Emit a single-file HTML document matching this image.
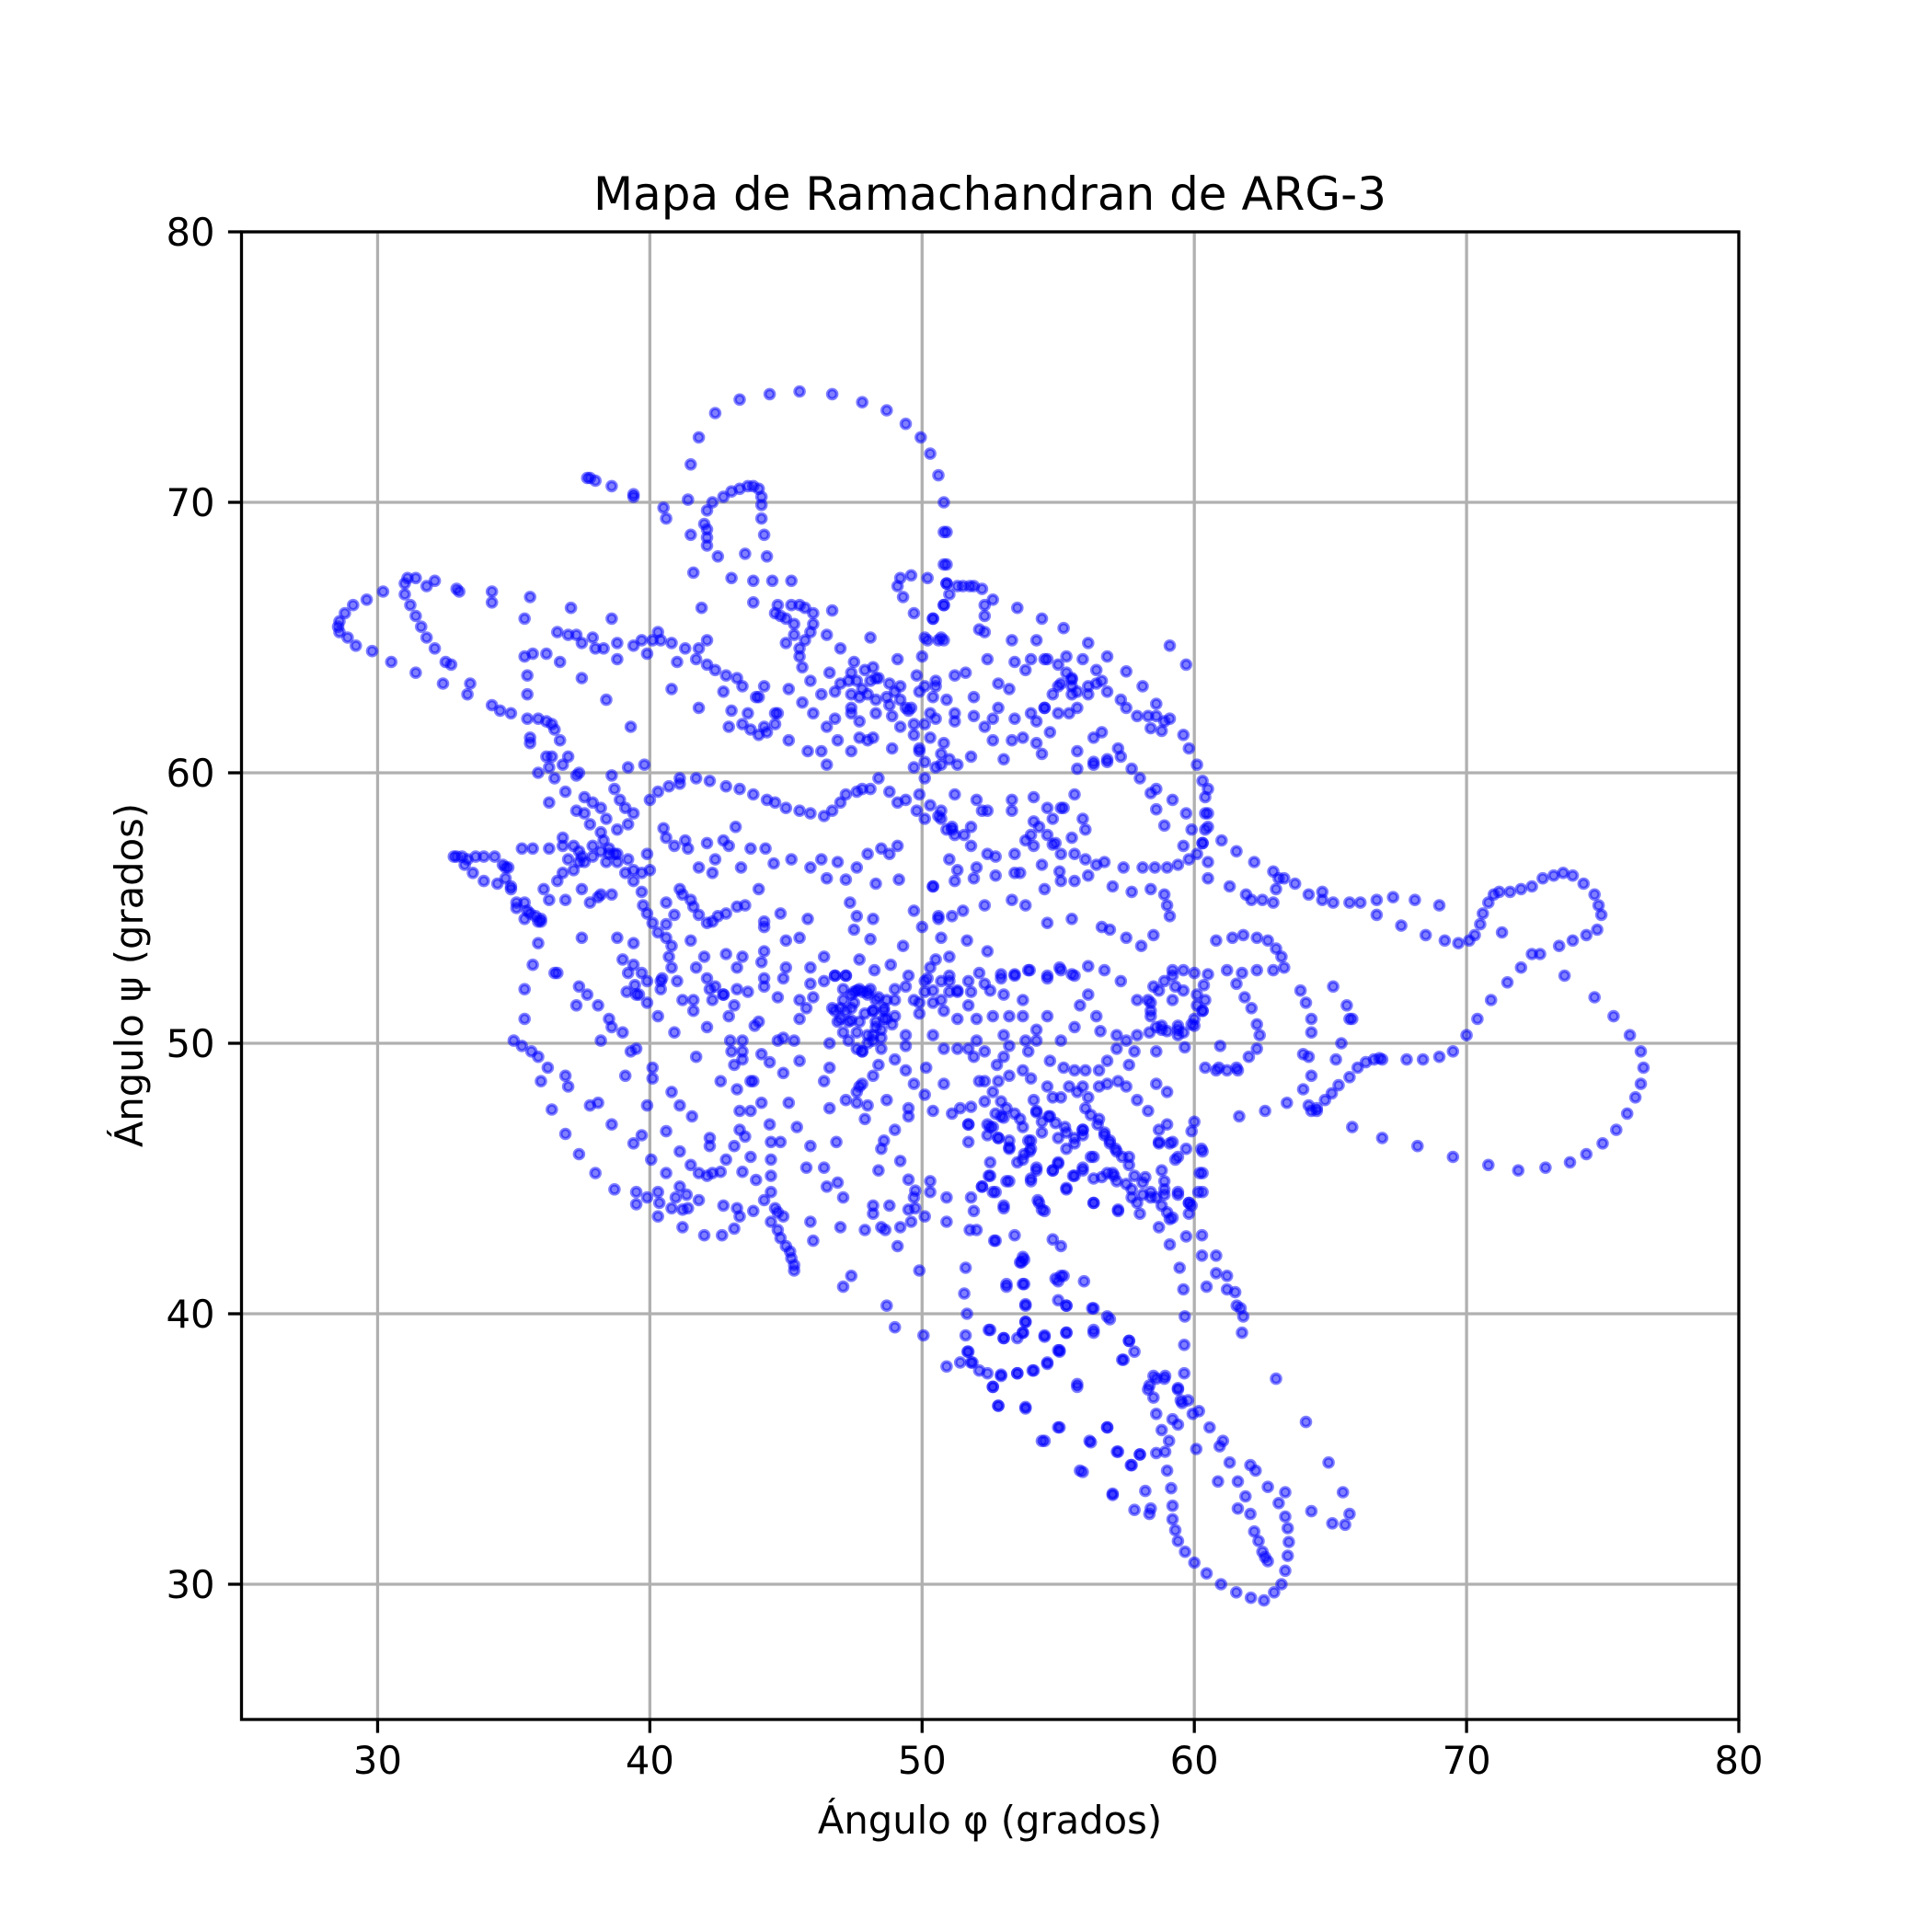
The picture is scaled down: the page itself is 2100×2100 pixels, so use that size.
<!DOCTYPE html>
<html>
<head>
<meta charset="utf-8">
<style>
  html, body { margin: 0; padding: 0; background: #ffffff; }
  svg { display: block; }
  text { font-family: "DejaVu Sans", "Liberation Sans", sans-serif; fill: #000; }
</style>
</head>
<body>
<svg id="chart" width="2100" height="2100" viewBox="0 0 2100 2100" xmlns="http://www.w3.org/2000/svg">
  <rect x="0" y="0" width="2100" height="2100" fill="#ffffff"/>
  <text x="1076" y="228" font-size="50" text-anchor="middle">Mapa de Ramachandran de ARG-3</text>
  <g id="grid"></g>
  <g id="points"></g>
  <rect x="262.5" y="252" width="1627.5" height="1617" fill="none" stroke="#000" stroke-width="3.3"/>
  <g id="xticks"></g>
  <g id="yticks"></g>
  <text x="1076" y="1993" font-size="41.7" text-anchor="middle">Ángulo φ (grados)</text>
  <text x="155" y="1060" font-size="41.7" text-anchor="middle" transform="rotate(-90 155 1060)">Ángulo ψ (grados)</text>
</svg>
<script>
const xTickValues = [30, 40, 50, 60, 70, 80];
const yTickValues = [30, 40, 50, 60, 70, 80];
const xDomain = [25, 80];
const yDomain = [25, 80];

const topLoop = [[43.3,73.8],[44.4,74.0],[45.5,74.1],[46.7,74.0],[47.8,73.7],[48.7,73.4],[49.4,72.9],[49.95,72.4],[50.3,71.8],[50.6,71.0],[50.8,70.0],[50.9,68.9],[50.9,67.7],[42.4,73.3],[41.8,72.4],[41.5,71.4],[41.4,70.1],[41.5,68.8],[41.6,67.4],[41.9,66.1],
[37.7,70.9],[37.8,70.9],[38.0,70.8],[38.6,70.6],[39.4,70.3],[39.4,70.2],[40.5,69.8],[40.6,69.4],
[42.1,69.7],[42.0,69.2],[42.1,69.0],[42.1,68.7],[42.1,68.4],[42.5,68.0],[42.3,70.0],[42.7,70.2],[43.0,70.4],[43.3,70.5],[43.6,70.6],[43.8,70.6],[44.0,70.5],[44.1,70.2],[44.1,69.9],[44.1,69.4],[44.2,68.8],[44.3,68.0],[43.5,68.1],
[43.0,67.2],[43.8,67.1],[44.5,67.1],[45.2,67.1],[43.8,66.3],[44.7,66.2],[46.7,66.0]];

const farLeftLoop = [[30.2,66.7],[29.6,66.4],[29.1,66.2],[28.8,65.9],[28.6,65.6],[28.55,65.4],[28.6,65.2],[28.9,65.0],[29.2,64.7],[29.8,64.5],[30.5,64.1],[31.4,63.7],[32.4,63.3],[33.3,62.9],[33.4,63.3],[34.2,62.5],[34.5,62.3],[34.9,62.2],[35.5,62.0],[35.9,62.0],[36.2,61.9],[36.4,61.8],[36.5,61.6],[36.7,61.2],
[31.0,67.0],[31.1,67.2],[31.4,67.2],[31.8,66.9],[32.1,67.1],[32.9,66.8],[33.0,66.7],[34.2,66.7],[34.2,66.3],[35.6,66.5],[35.4,65.7],[37.1,66.1],[38.6,65.7],
[31.0,66.6],[31.2,66.2],[31.4,65.8],[31.6,65.4],[31.8,65.0],[32.1,64.6],[32.5,64.1],[32.7,64.0]];

const upperLeftBand = [[36.6,65.2],[37.0,65.1],[37.3,65.1],[37.5,64.8],[37.9,65.0],[38.0,64.6],[38.3,64.6],[38.8,64.8],[38.8,64.2],[39.4,64.7],[39.7,64.9],[39.9,64.4],[40.1,64.9],[40.3,65.2],[40.4,64.9],[40.8,64.8],[41.3,64.6],[41.8,64.6],[42.1,64.9],[41.7,64.2],
[42.1,64.0],[42.4,63.8],[42.8,63.6],[43.2,63.5],[43.4,63.2],[43.9,62.8],[44.2,63.2],[44.0,62.8],[44.6,62.2],[44.7,62.2],[44.6,61.8],[44.3,61.5],[44.0,61.4],[43.7,61.6],[43.4,61.8],[42.9,61.7],[42.7,63.0],[43.0,62.3],[41.8,62.4],[40.8,63.1],[41.0,64.1],
[35.4,64.3],[35.7,64.4],[36.2,64.4],[36.7,64.1],[35.5,63.6],[35.5,62.9],[37.5,63.5],[38.4,62.7],[39.3,61.7],
[35.6,61.3],[35.6,61.1],[36.2,60.6],[36.4,60.6],[37.0,60.6],[36.8,60.3],[36.3,60.2],[35.9,60.0],[36.5,59.8],[37.3,59.9],[37.4,60.0],[36.3,58.9],[36.9,59.3]];

const upperMidKnot = [[44.8,65.8],[45.2,66.2],[45.5,66.2],[45.7,66.1],[46.0,65.9],[46.0,65.5],[45.9,65.2],[45.7,64.9],[45.5,64.6],[45.5,64.3],[45.3,65.1],[45.3,65.5],[45.0,65.7],[44.6,65.9],[45.0,64.8],[45.6,63.9],[45.9,63.4],[46.3,62.9],[46.8,63.0],
[46.5,65.1],[47.0,64.6],[47.5,64.1],[46.6,63.7],[47.0,63.3],[46.8,62.0],[46.3,60.8],[48.1,65.0],[48.1,63.4],
[49.2,67.2],[49.1,66.9],[49.3,66.5],[49.6,67.3],[50.2,67.2],[49.7,65.9],[50.4,65.7],[51.0,66.6],[50.9,67.0],[51.3,66.9],[50.8,66.2],[50.2,64.9],[50.6,64.9],[50.8,64.9],[50.0,64.3],[49.1,64.2],[49.8,63.6],[50.1,63.2],[50.5,63.2],[50.4,62.8],[50.9,62.7],[51.2,63.6],[50.5,62.0],[51.2,61.9],[50.8,61.1],[50.7,60.7],[51.0,60.5],[50.1,61.8],[50.3,61.3],[49.9,60.9],[49.7,61.4],[49.9,60.8],[50.1,60.4],[49.7,60.2],[50.5,60.2],
[47.4,63.7],[47.6,63.4],[47.9,63.8],[48.2,63.9],[48.4,63.5],[48.8,63.3],[49.0,63.0],[49.2,62.7],[49.4,62.4],[48.8,62.5],[48.3,62.7],[48.0,62.9],[47.7,62.8],[47.4,62.9],[47.3,63.4],[47.4,62.4],[47.7,61.9],[48.3,62.2],[48.9,62.1],[49.2,63.2],[49.5,62.3],[49.7,61.8],[48.2,61.3],[47.7,61.3],
[45.1,63.1],[45.6,62.6],[46.0,62.2],[46.5,61.7],[46.9,61.2],[47.4,62.2],[47.8,63.1],[48.3,63.5],[48.7,62.8],[49.2,61.7],[49.6,62.4],[48.9,60.9],[48.0,61.2],[47.4,60.8],[46.5,60.3],[45.8,60.8],[45.1,61.2],[44.2,61.7],[43.6,62.2]];

const upperRightArea = [[50.8,68.9],[50.8,67.7],[50.9,67.0],[51.5,66.9],[51.75,66.9],[51.9,66.9],[52.2,66.8],[52.6,66.4],[52.3,66.2],[52.3,65.8],[52.3,65.2],[50.8,66.2],[50.4,65.7],[50.1,65.0],[50.7,65.0],
[53.5,66.1],[54.4,65.7],[55.2,65.35],[56.1,64.8],[56.8,64.3],[57.5,63.75],[58.1,63.2],[58.6,62.55],[59.1,62.0],[59.6,61.4],[59.8,60.9],[60.1,60.3],[60.3,59.7],[60.4,59.1],[60.5,58.5],[60.4,57.9],[60.3,57.4],[60.1,57.0],
[53.4,64.1],[54.0,64.2],[54.5,64.2],[55.0,64.0],[55.3,63.7],[55.5,63.45],[55.7,63.0],[56.1,62.9],[56.4,63.3],[56.8,63.0],[57.3,62.7],[57.5,62.4],[57.9,62.1],[58.3,62.1],[58.6,62.1],[58.9,61.9],[58.8,61.55],[58.4,61.65],
[56.7,56.7],[57.4,56.5],[58.1,56.5],[58.55,56.5],[59.0,56.5],[59.4,56.6],[59.8,56.8],
[55.7,60.15],[56.3,60.4],[56.8,60.4],[57.3,60.6],[57.7,60.15],[58.0,59.8],[58.6,59.4],[59.2,59.0],[59.7,58.5],[59.9,57.9],[59.6,57.3],[58.9,58.05],[58.6,58.65],[58.4,59.25],
[55.6,59.2],[55.2,58.7],[54.8,58.3],[54.3,58.0],[54.0,57.7],[53.8,57.5],
[50.7,58.3],[51.1,57.9],[51.8,58.0],[52.4,58.6],[53.3,58.6],[54.1,58.2],[54.6,57.7],[54.9,57.4],[55.1,57.0],[55.6,57.0],[56.0,56.8],[56.4,56.6],
[50.5,63.4],[49.9,63.0],[50.3,62.2],[51.2,62.2],[51.9,62.1],[52.6,62.0],[53.4,62.0],[54.0,62.2],[54.5,62.4],[55.0,63.2],[55.5,63.2],[56.1,63.2],[55.7,62.4],[55.4,62.2],[56.3,61.3],[56.6,61.5],[57.2,60.9],[56.8,60.5],[56.3,60.3],[55.7,60.8],[54.4,60.7],[53.0,60.5],[51.8,60.6],[51.3,60.3],[50.7,60.3],
[51.2,59.2],[52.0,59.0],[53.3,59.0],[54.1,59.1],[54.6,58.7],[55.1,58.7],[55.9,58.3],[56.0,57.9],[55.5,57.6],[54.8,57.35],[54.1,57.3],[53.4,57.0],[52.4,57.0],[51.8,57.3],[51.55,57.7],[51.1,58.0],[52.0,56.5],[52.7,56.9],[53.4,56.3],[54.4,56.6],[55.1,56.0],[52.2,58.6],[50.7,58.6],[50.3,58.8],[49.9,59.2],[50.1,59.8],
[52.3,61.7],[52.8,62.4],[53.2,63.1],[53.8,63.8],[54.6,64.2],[55.3,64.3],[55.9,64.2],[56.4,63.8],[56.6,63.4],[55.5,62.9],[55.0,62.2],[54.7,61.5],[54.2,61.1],[53.7,61.3],[54.2,61.9],[54.5,62.4],[54.8,62.9],[55.1,63.3],[55.5,63.5],
[52.1,65.3],[52.4,64.2],[51.6,63.7],[51.9,62.8],[52.8,63.3],[53.3,64.9],[54.2,64.9],[53.3,61.2],[52.6,61.2],[59.1,64.7],[59.7,64.0]];

const rightLobe = [[60.8,53.8],[61.4,53.9],[61.8,54.0],[62.3,53.9],[62.7,53.8],[63.0,53.5],[63.2,53.2],[63.3,52.8],[62.9,52.7],[62.3,52.7],[61.75,52.6],[61.2,52.7],[60.5,52.55],[61.55,52.2],[61.85,51.7],[62.1,51.3],[62.3,50.7],[62.4,50.3],[62.3,49.8],[62.0,49.5],[61.55,49.1],[61.2,49.0],[60.8,49.0],[60.4,49.1],
[63.9,51.95],[64.1,51.5],[64.3,50.9],[64.3,50.4],[64.0,49.6],[64.3,48.8],[64.0,48.3],[64.2,47.7],[64.5,47.5],[64.8,47.9],[65.05,48.15],[65.3,48.45],[65.7,48.75],[66.0,49.1],[66.3,49.3],[66.6,49.4],[66.8,49.45],[66.9,49.4],[67.8,49.4],[68.4,49.4],[69.0,49.5],[69.5,49.7],[70.0,50.3],[70.4,50.9],[70.9,51.6],[71.5,52.25],[72.0,52.8],[72.4,53.3],[72.7,53.3],[73.4,53.6],[73.9,53.8],[74.4,54.0],[74.8,54.2],[74.95,54.75],[74.85,55.1],[74.7,55.5],[74.3,55.9],[73.9,56.2],[73.55,56.3],[73.2,56.2],[72.8,56.1],[72.4,55.8],[72.0,55.7],[71.6,55.6],[71.2,55.6],[71.0,55.5],[70.8,55.2],[70.6,54.8],[70.5,54.4],[70.3,54.0],[70.1,53.8],[69.7,53.7],[69.2,53.8],[69.0,55.1],[68.5,54.0],[68.1,55.3],[67.6,54.35],[67.3,55.4],[66.7,54.75],[66.7,55.3],[66.1,55.2],[65.7,55.2],[65.1,55.2],[64.7,55.3],[64.7,55.6],[64.2,55.5],[63.7,55.9],[63.3,56.1],[63.1,56.1],[63.0,55.7],[62.9,55.2],[62.5,55.3],[62.1,55.3],[61.9,55.5],[61.3,55.8],[60.5,56.1],[60.5,56.7],[60.3,57.4],[61.0,57.5],[61.55,57.1],[62.2,56.7],[62.9,56.35],
[73.6,52.5],[74.7,51.7],[75.4,51.0],[76.0,50.3],[76.4,49.7],[76.5,49.1],[76.4,48.5],[76.2,48.0],[75.9,47.4],[75.5,46.8],[75.0,46.3],[74.4,45.9],[73.8,45.6],[72.9,45.4],[71.9,45.3],[70.8,45.5],[69.5,45.8],[68.2,46.2],[66.9,46.5],[65.8,46.9],[64.5,47.6],[64.3,47.5],
[61.65,47.3],[62.6,47.5],[63.4,47.8],[65.1,52.1],[65.6,51.4],[65.7,50.9],[65.8,50.9],[65.4,50.0],[65.2,49.4],[64.2,49.5],[71.3,54.1],[60.5,59.4],[60.4,58.5],[60.5,58.0]];

const tail = [[59.66,31.2],[60.0,30.8],[60.45,30.4],[60.98,30.0],[61.54,29.7],[62.08,29.5],[62.56,29.4],[62.93,29.7],[63.2,30.0],[63.34,30.5],[63.43,31.05],[63.47,31.56],[63.43,32.07],[63.34,32.5],[63.1,33.0],[63.34,33.4],[62.7,33.6],[62.25,34.2],[62.06,34.4],[61.88,33.25],[62.06,32.6],[62.2,31.95],[62.36,31.6],[62.5,31.2],[62.7,30.85],[62.6,31.0],[61.6,32.8],[61.6,33.8],[61.3,34.5],[60.87,33.8],[61.05,35.3],[60.93,35.1],[60.56,35.8],[60.17,36.4],[59.94,36.3],[59.77,36.8],[59.5,36.8],[59.4,37.25],[58.93,37.7],[58.5,37.7],[58.35,37.35],[58.5,36.9],[58.6,36.3],[58.8,35.7],[59.07,35.3],[58.93,34.9],[58.6,34.85],[59.0,34.2],[59.15,33.55],[59.2,32.9],[59.2,32.4],[59.3,32.0],[59.4,31.6],[60.07,35.0],[59.63,37.8],[59.63,38.85],[59.65,39.9],[59.6,40.9],[59.46,41.7],[59.7,42.86],[59.1,42.56],[60.28,42.9],[60.28,42.15],[60.8,42.15],[60.8,41.5],[61.2,41.4],[61.2,40.9],[61.5,40.8],[61.56,40.3],[61.7,40.2],[61.8,39.9],[61.75,39.3],[60.45,41.0],[60.2,45.2],[60.26,46.1],[60.15,44.5],[59.8,44.1],[59.8,43.7],[63.0,37.6],[64.1,36.0],[64.93,34.5],[65.46,33.4],[65.7,32.6],[65.54,32.2],[65.07,32.25],[64.3,32.7],
[57.35,38.3],[57.6,39.0],[57.8,38.6],[56.8,35.8],[57.16,34.9],[57.67,34.4],[58.0,34.8],[58.2,33.45],[58.4,32.8],[58.35,32.6],[57.8,32.75],[57.0,33.35],[55.8,34.2],[56.15,35.3],[55.0,35.8],[54.4,35.3],[55.7,37.4],[53.8,36.55],[52.8,36.6],[52.6,37.3],[52.9,37.75],[53.5,37.8],[54.06,37.9],[54.6,38.2],[55.05,38.65],[52.1,37.9],[51.8,38.2],[51.67,38.6],[52.45,39.4],[53.0,39.1],[53.5,39.1],[53.7,39.3],[53.8,39.7],[53.8,40.35],[53.7,41.1],[53.1,41.1],[54.5,39.2],[55.3,39.3],[55.0,38.65],[56.3,39.4],[56.25,40.2],[56.8,39.9],[55.3,40.3],[55.0,40.5],[55.1,41.4],[54.9,41.3],[55.95,41.2],[53.6,41.9],[53.7,42.1],[54.8,42.75],[55.1,42.5],[53.4,42.9],[52.7,42.7],
[58.6,37.6],[58.9,37.6],[58.3,37.2],[59.2,36.1],[59.4,35.9],[59.4,37.2],[59.55,36.7]];

const diagonalStreak = [[56.0,47.6],[56.2,47.35],[56.45,47.0],[56.7,46.7],[56.9,46.4],[57.1,46.1],[57.35,45.8],[57.6,45.5],[57.8,45.1],[58.1,44.85],[58.4,44.5],[58.6,44.3],[58.8,44.0],[59.0,43.75],[59.2,43.55],[59.1,43.5],
[56.8,45.2],[57.05,45.1],[57.5,44.8],[57.7,44.3],[57.9,44.1],[58.4,44.3],[58.8,45.3],[58.9,44.9],[58.9,44.6],[58.7,46.3],[59.1,46.3],[59.3,45.7],[59.4,44.4],[59.9,44.0],[58.7,43.2],
[51.7,47.0],[52.4,47.0],[52.6,46.9],[53.0,47.25],[53.6,47.2],[54.2,47.45],[54.65,47.3],[54.9,47.05],[55.3,46.7],[55.6,46.5],[55.9,46.8],[52.4,46.6],[52.8,46.5],[53.2,46.4],[53.2,46.15],[53.9,46.4],[54.0,46.1],[53.75,45.9],[53.5,45.6],[54.2,45.4],[55.0,46.5],[55.0,45.55],[54.8,45.3],[55.3,44.65],[55.55,45.1],[55.9,45.3],[56.2,45.8],[56.3,45.0],[52.45,45.1],[52.2,44.7],[52.6,44.5],[53.1,44.9],[54.0,45.0],[54.25,44.2],[54.4,43.85],[56.3,44.1],[57.2,43.85],[58.0,43.7],[51.8,44.3],[51.9,43.8],[53.0,44.0],[51.75,43.1],[52.0,43.1],[52.65,42.7]];

const lowerLeft = [[35.0,50.1],[35.3,49.9],[35.65,49.7],[35.9,49.5],[36.25,49.1],[36.0,48.6],[36.9,48.8],[37.0,48.4],[36.4,47.55],[36.9,46.65],[37.4,45.9],[38.0,45.2],[38.7,44.6],[39.5,44.5],[39.5,44.05],[39.9,44.3],[40.3,44.5],[40.35,44.1],[40.3,43.6],[40.8,43.9],[40.95,44.3],[41.1,44.7],[41.2,43.85],[41.4,43.9],[41.35,44.4],[41.8,44.2],[41.2,43.2],[42.0,42.9],[42.65,42.9],[43.1,43.15],[43.2,43.9],[43.3,43.6],[42.7,44.0],[43.8,43.8],[44.2,44.2],[44.45,44.5],[44.6,43.9],[44.7,43.75],[44.9,43.6],[44.45,43.4],[44.7,43.1],[44.8,42.8],[45.0,42.5],[45.15,42.3],[45.2,42.05],[45.3,41.8],[45.3,41.6],
[45.9,43.4],[46.0,42.7],[47.0,43.2],[47.1,44.3],[46.9,44.85],[46.5,44.7],[47.4,41.4],[47.1,41.0],[47.9,43.1],[48.2,44.0],[48.8,44.0],[48.2,43.7],[48.5,43.2],[48.65,43.1],[49.2,43.2],[49.1,42.5],[49.6,43.4],[49.5,43.85],[49.75,43.9],[49.9,41.6],[50.1,43.6],[49.2,45.65],[49.5,44.96],[49.75,44.55],[49.7,44.3],[50.3,44.9],[50.3,44.5],[50.9,44.3],[50.9,43.4],[48.7,40.3],[49.0,39.5],[50.05,39.2],
[51.6,41.7],[51.55,40.75],[51.65,40.0],[51.6,39.2],[51.7,38.6],[51.4,38.2],[50.9,38.05],[51.85,38.2],[52.4,37.8],[52.9,37.7],[53.5,37.8],[54.1,37.9],[54.6,38.15],[55.05,38.6],[55.3,39.3],[54.5,39.15],[53.7,39.3],[53.0,39.1],[52.5,39.4],[53.8,39.7],[53.8,40.3],[53.75,41.1],[53.1,41.0],[53.65,41.9],[53.75,42.0],[55.0,41.2],[55.2,41.4],[55.3,40.3],[56.3,40.2],[56.3,39.3],[56.9,39.8],[57.6,39.0],[57.4,38.3],[55.7,37.3],[52.6,37.3],[52.8,36.6],[53.8,36.5],[54.5,35.3],[55.05,35.8],[56.2,35.25],[56.8,35.8],[57.2,34.9],[57.7,34.4],[58.0,34.8],[57.0,33.3],[55.9,34.15]];

const centerBand = [[35.4,52.0],[35.4,50.9],[36.5,52.6],[37.4,52.1],[37.7,51.8],[37.3,51.4],[38.1,51.4],[38.5,50.9],[38.6,50.6],[39.0,50.4],[38.2,50.1],[39.3,49.7],[39.5,49.8],[39.1,48.8],[37.8,47.7],[38.1,47.8],[38.6,47.0],[39.9,47.7],[39.7,46.6],[39.4,46.3],[40.05,45.7],[40.1,49.1],[40.1,48.7],[40.8,48.2],[41.1,47.7],[41.55,47.3],[40.6,46.75],[41.1,46.0],[40.6,45.2],[41.5,45.5],[41.8,45.2],[42.1,45.1],[42.3,45.2],[42.6,45.25],[42.8,45.7],[42.2,46.5],[42.2,46.2],[43.1,46.2],[43.3,46.8],[43.5,46.55],[43.7,45.8],[43.4,45.25],[43.9,44.95],[44.4,47.0],[44.45,46.35],[44.45,45.7],[44.45,45.1],[43.3,47.5],[43.7,47.5],[44.1,47.8],[45.1,47.8],[45.4,46.9],[45.75,45.4],[46.4,45.4],[45.9,46.2],[46.85,46.35],[46.6,47.6],[47.9,47.2],[48.6,46.4],[48.5,46.1],[49.0,46.8],[48.4,45.3],[47.2,47.9],[47.6,47.8],[48.0,47.7],[48.7,47.9],[49.5,47.6],[49.5,47.3],[43.2,48.3],[43.8,48.6],[44.8,46.35],[42.6,48.6],[41.7,49.5],[43.0,49.7],[43.4,50.1],[44.7,50.1],[45.3,50.1],[46.6,50.0],[47.3,50.1],[47.8,49.7],[48.5,49.8],[49.4,50.3],[49.9,51.1],[49.9,51.5],[49.4,52.1],[49.0,51.6],[48.2,51.2],[47.1,52.0],[46.8,52.5],[46.4,52.3],[45.9,52.2],[45.75,51.3],[45.5,50.9],[44.9,50.2],[44.1,49.6],[43.4,49.4],[43.1,49.2],[43.7,48.6],[44.4,49.3],[44.9,48.9],[45.5,49.35],[46.4,48.6],[46.6,49.1],[47.7,48.4],[47.8,48.5],[47.6,48.2],[48.2,48.8],[48.4,49.2],[49.0,49.4],[49.4,49.0],[49.7,48.5],[50.15,49.1],[50.1,48.1],[50.4,47.5],[50.8,48.5],[51.1,47.4],[51.4,47.6],[51.8,47.65],[52.3,47.85],[52.9,47.85],[52.1,48.6],[51.7,47.0],[51.7,46.35],[52.5,46.9],[52.8,46.5],[52.5,45.6],[52.5,45.1],[52.2,44.7],[52.7,44.5],[53.2,44.9],[53.0,43.9],[53.2,46.1],[53.7,45.7],[54.0,44.9],[54.2,45.3],[53.95,46.0],[54.0,46.4],[54.4,46.7],[54.8,45.3],[55.0,45.6],[55.3,46.1],[55.6,46.3],[55.9,46.6],[56.3,45.8],[55.9,45.4],[55.6,45.1],[55.3,44.6],[56.3,44.1],[57.2,43.8],[54.3,44.1],[54.5,43.8],[53.7,46.9],[53.4,47.4],[53.1,47.6],[52.7,47.4],[52.9,47.3],[52.3,48.6],[52.6,48.2],[52.8,48.6],[53.2,48.8],[53.7,49.0],[54.0,48.7],[54.6,48.4],[54.8,48.0],[55.1,48.0],[54.7,47.3],[55.25,46.9],[55.9,46.8],[53.0,49.5],[54.1,47.9],[54.2,47.5],[54.4,47.1],[52.75,49.2],[51.9,49.5],[53.0,50.3],[52.0,50.1],[50.4,50.3],[50.8,49.8],[51.3,49.8],[51.7,49.8],[52.3,49.7],[53.2,49.9],[53.8,50.1],[54.2,50.1],[54.7,49.35],[55.2,49.1],[55.6,49.0],[56.0,49.0],[56.5,49.0],[56.8,49.35],[57.15,49.8],[57.5,50.1],[57.9,50.3],[58.35,50.4],[58.8,50.5],[59.0,50.45],[59.4,50.65],[59.6,50.4],[59.65,49.85],[58.6,49.7],[57.8,49.7],[57.6,49.2],[57.5,48.4],[57.9,47.9],[58.3,47.5],[58.7,46.8],[59.2,46.35],[59.4,45.8],[59.7,46.1],[59.9,46.75],[60.0,47.1],[60.3,46.0],[60.3,45.2],[60.3,44.5],[59.8,44.1],[59.4,44.5],[58.9,44.4],[58.2,45.05],[58.1,44.4],[57.7,44.6],[57.15,44.9],[56.6,45.05],[56.5,47.2],[56.7,46.6],[56.9,46.3],[57.15,46.0],[57.6,45.8],[57.0,45.2],[55.7,48.2],[55.4,48.4],[55.9,48.4],[56.1,48.0],[56.5,48.4],[56.8,48.5],[57.2,48.6],[58.6,48.5],[59.0,48.2],[59.0,47.0],[58.7,46.35],[60.1,51.4],[60.0,50.9],[60.95,49.9],[61.6,49.0],[60.9,49.1]];

const centerUpper = [[39.2,52.6],[39.45,52.15],[39.5,51.8],[39.9,51.5],[40.3,51.0],[40.4,52.3],[40.4,52.0],[40.9,50.4],[41.6,51.2],[42.2,52.0],[42.3,51.6],[42.7,51.8],[42.9,51.0],[43.1,51.4],[43.2,52.0],[42.1,50.6],[42.95,50.1],[43.4,49.7],[44.0,50.8],[43.85,50.65],[44.9,52.4],[47.2,52.5],[47.5,51.9],[47.7,52.0],[48.0,51.8],[48.3,51.6],[48.6,51.2],[48.7,50.9],[48.5,50.5],[48.2,50.3],[47.8,49.7],[47.6,49.8],[47.1,50.4],[47.0,50.9],[46.8,51.2],[47.4,50.85],[48.3,50.8],[48.2,50.1],[49.0,51.0],[49.4,49.9],[49.7,51.6],[50.1,52.3],[50.2,52.4],[50.4,51.95],[50.7,51.6],[51.0,52.3],[51.3,51.95],[51.7,52.3],[52.1,52.6],[52.5,51.95],[52.9,52.4],[53.4,52.5],[53.95,52.7],[54.6,52.4],[55.1,52.7],[55.6,52.5],[55.8,51.4],[56.1,51.8],[56.4,51.0],[56.55,50.45],[57.15,50.3],[55.6,50.6],[55.1,50.1],[54.6,51.0],[54.2,50.5],[53.7,51.6],[53.7,51.0],[53.0,51.8],[53.2,51.0],[52.6,51.0],[52.0,50.9],[51.7,51.4],[51.3,50.9],[50.8,51.2],[53.9,49.7],
[58.5,52.1],[58.9,52.3],[59.2,52.5],[59.6,52.7],[60.0,52.6],[60.35,52.15],[60.4,51.6],[60.3,51.2],[59.9,50.7],[59.4,50.3],[58.6,50.6],[58.4,51.0],[58.3,51.6],[59.2,51.6],[59.3,52.1],
[47.5,51.5],[47.8,51.9],[48.1,52.0],[48.4,51.7],[48.6,51.3],[48.6,50.9],[48.3,50.6],[48.0,50.3],[47.6,50.4],[47.3,50.8],[47.2,51.2],[47.9,51.1],[48.2,51.2],[47.7,50.8],[48.5,50.2],[48.9,50.7],[48.7,51.6],[48.0,50.0],[47.4,51.8],[47.0,51.3],[46.9,50.8],
[50.4,55.8],[51.2,56.0],[51.9,56.1],[52.7,56.2],[53.6,56.3],[54.5,55.7],[55.05,56.35],[55.6,56.0],[56.1,56.2],[57.0,55.8],[57.7,55.6],[58.4,55.7],[58.9,55.5],[59.0,55.1],[59.1,54.7],[58.5,54.0],[58.05,53.6],[57.5,53.9],[56.9,54.2],[56.6,54.3],[55.5,54.6],[54.6,54.45],[53.8,55.1],[53.3,55.3],[52.3,55.1],[51.5,54.9],[51.1,54.7],[50.6,54.7],[50.7,53.9],[51.65,53.8],[52.4,53.4],[52.9,52.55],[52.3,52.2],[51.8,51.9],[51.3,51.9],[50.7,52.3],[50.3,52.8],[53.4,52.55],[53.9,52.7],[54.6,52.5],[55.05,52.8],[55.5,52.55],[56.1,52.85],[56.7,52.7],[57.3,52.3],[57.9,51.6],[58.4,51.5],[58.7,51.95],[59.2,52.7],[59.6,51.95],[60.1,51.8],[60.3,51.2],[60.0,50.65],[59.4,50.5],[58.8,50.65],[58.4,51.2]];

const leftInner = [[38.6,59.9],[39.2,60.2],[39.8,60.3],[41.1,59.6],[41.1,59.8],[40.7,59.5],[40.3,59.3],[40.0,59.0],[41.7,59.8],[42.2,59.7],[42.8,59.5],[43.3,59.4],[43.8,59.2],[44.3,59.0],[44.6,58.9],[45.0,58.7],[45.5,58.6],[45.9,58.5],[46.4,58.4],[46.7,58.6],[47.0,58.9],[47.2,59.2],[47.6,59.3],[47.8,59.4],[48.1,59.4],[48.4,59.8],[48.8,59.3],[49.1,58.9],[49.4,59.0],[49.8,58.6],[50.1,58.3],[50.6,58.4],[50.9,57.9],[51.2,57.7],
[38.7,59.4],[38.9,59.0],[39.1,58.7],[39.4,58.5],[39.2,58.1],[38.8,57.9],[38.4,58.3],[38.2,58.7],[37.9,58.9],[37.6,59.1],[37.3,58.6],[37.6,58.5],[37.8,58.1],[38.2,57.8],[38.3,57.5],[38.5,57.2],[38.8,57.0],[39.2,56.8],[39.4,56.4],[39.7,56.3],
[36.8,57.6],[37.2,57.3],[37.5,56.9],[37.0,56.8],[37.9,56.9],[38.4,56.7],[38.7,57.0],[39.9,57.0],[40.0,56.4],
[32.8,56.9],[32.9,56.9],[33.1,56.9],[33.3,56.8],[33.6,56.9],[33.9,56.9],[34.3,56.9],[34.6,56.6],[34.7,56.5],[34.8,56.5],[34.7,56.1],[34.9,55.8],[35.1,55.2],[35.4,55.2],[35.5,54.9],[35.8,54.7],[36.0,54.5],[35.9,54.5],[35.4,54.6],[34.4,55.9],[33.9,56.0],[33.5,56.3],[33.2,56.6],[35.3,57.2],[35.7,57.2],[36.3,57.2],[36.8,57.3],[37.4,57.1],
[35.7,52.9],[35.9,53.7],[36.6,52.6],[37.5,53.9],[38.2,55.5],
[40.5,57.95],[40.6,57.6],[40.9,57.3],[41.3,57.5],[41.4,57.2],[41.8,56.5],[42.1,57.4],[42.4,56.8],[42.3,56.3],[42.7,57.5],[42.9,57.3],[43.15,58.0],[43.35,56.5],[43.7,57.2],[44.25,57.2],[44.55,56.65],[45.2,56.8],[45.9,56.5],[46.3,56.8],[46.5,56.1],[46.9,56.7],[47.2,56.05],[47.35,55.2],[47.6,56.5],[48.0,57.0],[48.5,57.2],[48.8,57.0],[49.1,57.3],[48.3,55.9],[49.15,56.05],[49.7,54.9],[48.2,54.6],[47.6,54.7],[47.5,54.2],[48.1,53.85],[48.25,52.7],[48.85,52.9],[49.3,53.6],[50.0,54.3],[50.6,54.6],[50.4,55.8],[51.0,56.8],[51.3,56.4],
[41.1,55.7],[41.2,55.5],[41.5,55.3],[41.6,55.05],[41.8,54.75],[42.1,54.45],[42.3,54.5],[42.5,54.7],[42.8,54.8],[43.2,55.05],[43.5,55.1],[44.2,54.5],[44.2,54.3],[44.8,54.8],[45.0,53.8],[45.5,53.9],[45.8,54.6],[44.0,55.7],[40.6,55.2],[40.9,54.75],[40.6,54.4],[40.6,53.9],[40.8,53.6],[41.5,53.8],[42.0,53.2],[41.7,52.8],[42.1,52.4],[42.8,53.3],[43.2,52.8],[43.4,53.2],[44.2,53.4],[44.1,53.0],[44.2,52.4],[45.0,52.8],[45.9,52.8],[46.4,53.2],[46.8,52.5],[47.2,52.5],[47.7,53.1],[49.0,52.0],[49.5,52.5],[50.5,53.1],[51.0,53.2],[51.0,52.5],[51.0,51.9],[50.4,51.5],[50.1,51.9],[48.0,51.9],[47.6,51.95],[47.1,51.6],[47.4,51.3],[46.7,51.3],[46.0,51.7],[45.5,51.6],[44.7,51.7],[44.2,52.1],[43.6,51.9],[42.7,51.8],[42.4,52.1],[41.6,51.6],[41.2,51.6],[41.0,52.3],[40.45,52.4],[39.9,52.3],[39.6,51.8],[39.15,51.9],[39.0,53.1],[39.4,52.9],[39.7,52.6],[39.4,53.7],[38.8,53.9],[38.6,55.5],[38.1,55.4],[37.8,55.2],[37.5,55.7],[37.6,56.7],[36.9,55.3],[36.3,55.3],[36.1,55.7],[36.6,56.0],[36.8,56.3],[37.2,56.4],[37.4,56.7],[37.9,57.3],[38.2,57.1],[38.5,57.0],[38.8,56.7],[39.1,56.3],[39.4,56.0],[39.7,55.6],[39.75,55.1],[39.9,54.8],[40.1,54.45],[40.3,54.1],[40.7,53.2],[40.8,52.8],
[34.9,55.7],[35.1,55.0],[35.6,54.8],[36.0,54.6]];

const allSeries = [topLoop, farLeftLoop, upperLeftBand, upperMidKnot, upperRightArea, rightLobe, tail, diagonalStreak, lowerLeft, centerBand, centerUpper, leftInner];

const NS = 'http://www.w3.org/2000/svg';
const plotLeft = 262.5, plotRight = 1890, plotTop = 252, plotBottom = 1869;
function xScale(v) { return plotLeft + (v - xDomain[0]) / (xDomain[1] - xDomain[0]) * (plotRight - plotLeft); }
function yScale(v) { return plotBottom - (v - yDomain[0]) / (yDomain[1] - yDomain[0]) * (plotBottom - plotTop); }

const grid = document.getElementById('grid');
const xt = document.getElementById('xticks');
const yt = document.getElementById('yticks');

xTickValues.forEach(function (v) {
  const x = xScale(v);
  const g = document.createElementNS(NS, 'line');
  
  
  g.setAttribute('x1', x); g.setAttribute('x2', x);
  g.setAttribute('y1', plotTop); g.setAttribute('y2', plotBottom);
  g.setAttribute('stroke', '#b0b0b0'); g.setAttribute('stroke-width', '3.3');
  grid.appendChild(g);
  const t = document.createElementNS(NS, 'line');
  
  
  t.setAttribute('x1', x); t.setAttribute('x2', x);
  t.setAttribute('y1', plotBottom); t.setAttribute('y2', plotBottom + 14.6);
  t.setAttribute('stroke', '#000'); t.setAttribute('stroke-width', '3.3');
  xt.appendChild(t);
  const l = document.createElementNS(NS, 'text');
  
  
  l.setAttribute('x', x); l.setAttribute('y', plotBottom + 59);
  l.setAttribute('font-size', '41.7'); l.setAttribute('text-anchor', 'middle');
  l.textContent = String(v);
  xt.appendChild(l);
});

yTickValues.forEach(function (v) {
  const y = yScale(v);
  const g = document.createElementNS(NS, 'line');
  
  
  g.setAttribute('x1', plotLeft); g.setAttribute('x2', plotRight);
  g.setAttribute('y1', y); g.setAttribute('y2', y);
  g.setAttribute('stroke', '#b0b0b0'); g.setAttribute('stroke-width', '3.3');
  grid.appendChild(g);
  const t = document.createElementNS(NS, 'line');
  
  
  t.setAttribute('x1', plotLeft - 14.6); t.setAttribute('x2', plotLeft);
  t.setAttribute('y1', y); t.setAttribute('y2', y);
  t.setAttribute('stroke', '#000'); t.setAttribute('stroke-width', '3.3');
  yt.appendChild(t);
  const l = document.createElementNS(NS, 'text');
  
  
  l.setAttribute('x', plotLeft - 29); l.setAttribute('y', y + 15);
  l.setAttribute('font-size', '41.7'); l.setAttribute('text-anchor', 'end');
  l.textContent = String(v);
  yt.appendChild(l);
});

const pts = document.getElementById('points');
allSeries.forEach(function (series) {
  series.forEach(function (p) {
    const c = document.createElementNS(NS, 'circle');
    
    
    c.setAttribute('cx', xScale(p[0]).toFixed(1));
    c.setAttribute('cy', yScale(p[1]).toFixed(1));
    c.setAttribute('r', '5');
    c.setAttribute('fill', 'rgba(0,0,255,0.5)');
    c.setAttribute('stroke', 'rgba(0,0,255,0.5)');
    c.setAttribute('stroke-width', '3.6');
    pts.appendChild(c);
  });
});
</script>
</body>
</html>
